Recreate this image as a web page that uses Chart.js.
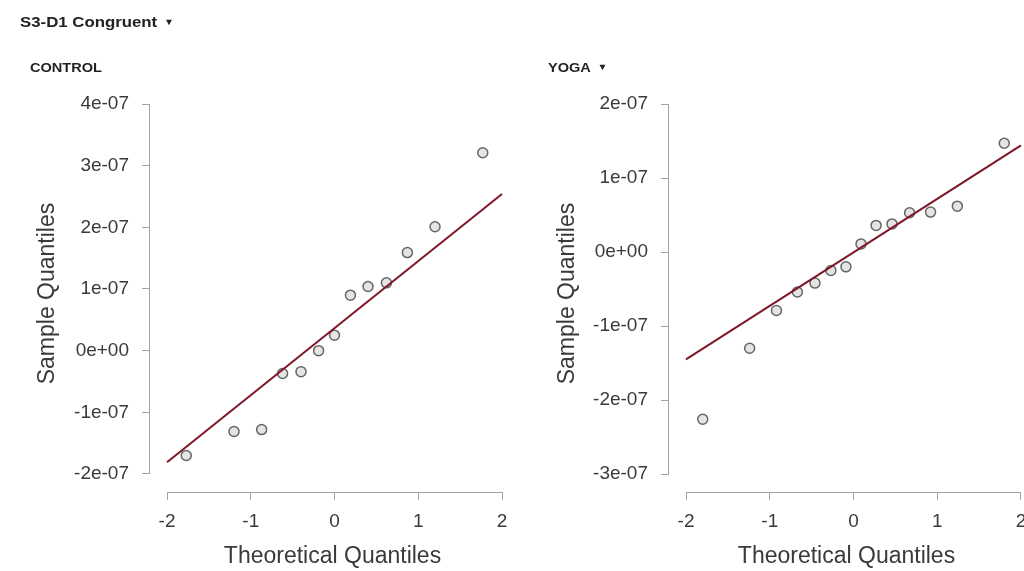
<!DOCTYPE html>
<html><head><meta charset="utf-8">
<script src="https://cdn.jsdelivr.net/npm/chart.js@4.4.1/dist/chart.umd.min.js"></script>
<style>
html,body{margin:0;padding:0;background:#fff;width:1024px;height:571px;overflow:hidden;}
#wrap{position:relative;width:1024px;height:571px;}
canvas{position:absolute;top:0;}
.hdr{position:absolute;font-family:"Liberation Sans",Arial,sans-serif;font-weight:bold;color:#222;white-space:nowrap;transform:scaleX(1.12);transform-origin:left center;line-height:16px;}
.tri{font-size:9px;margin-left:6px;vertical-align:2px;}
</style></head><body>
<div id="wrap">
<canvas id="c1" width="520" height="571" style="left:0"></canvas>
<canvas id="c2" width="504" height="571" style="left:520px"></canvas>
<div class="hdr" style="left:20px;top:14px;font-size:15px;">S3-D1 Congruent<span class="tri">▼</span></div>
<div class="hdr" style="left:30px;top:60px;font-size:13px;">CONTROL</div>
<div class="hdr" style="left:548px;top:59px;font-size:13px;">YOGA<span class="tri">▼</span></div>
</div>
<script>
// ---- data ----
const xTicks = [-2, -1, 0, 1, 2];
const xLabels = ["-2", "-1", "0", "1", "2"];

const controlTheoretical = [-1.77, -1.20, -0.87, -0.62, -0.40, -0.19, 0.00, 0.19, 0.40, 0.62, 0.87, 1.20, 1.77];
const controlSample = [-1.70e-7, -1.31e-7, -1.28e-7, -0.37e-7, -0.34e-7, 0.00e-7, 0.25e-7, 0.90e-7, 1.04e-7, 1.10e-7, 1.59e-7, 2.01e-7, 3.21e-7];
const controlLineX = [-2, 2];
const controlLineY = [-1.81e-7, 2.54e-7];
const controlYTicks = [-2e-7, -1e-7, 0, 1e-7, 2e-7, 3e-7, 4e-7];
const controlYLabels = ["-2e-07", "-1e-07", "0e+00", "1e-07", "2e-07", "3e-07", "4e-07"];

const yogaTheoretical = [-1.80, -1.24, -0.92, -0.67, -0.46, -0.27, -0.09, 0.09, 0.27, 0.46, 0.67, 0.92, 1.24, 1.80];
const yogaSample = [-2.26e-7, -1.30e-7, -0.79e-7, -0.54e-7, -0.42e-7, -0.25e-7, -0.20e-7, 0.11e-7, 0.36e-7, 0.38e-7, 0.53e-7, 0.54e-7, 0.62e-7, 1.47e-7];
const yogaLineX = [-2, 2];
const yogaLineY = [-1.45e-7, 1.44e-7];
const yogaYTicks = [-3e-7, -2e-7, -1e-7, 0, 1e-7, 2e-7];
const yogaYLabels = ["-3e-07", "-2e-07", "-1e-07", "0e+00", "1e-07", "2e-07"];

// ---- drawing ----
const FONT = '"Liberation Sans", Arial, sans-serif';
const AXIS_COLOR = '#a3a3a3';
const TEXT_COLOR = '#3a3a3a';

const axisLines = {
  id: 'axisLines',
  afterDraw(chart) {
    const {ctx, chartArea, scales: {x, y}} = chart;
    ctx.save();
    ctx.strokeStyle = AXIS_COLOR;
    ctx.lineWidth = 1;
    const yl = Math.round(chartArea.left) - 0.5;
    ctx.beginPath();
    ctx.moveTo(yl, y.getPixelForValue(y.ticks[0].value));
    ctx.lineTo(yl, y.getPixelForValue(y.ticks[y.ticks.length - 1].value));
    ctx.stroke();
    const xb = Math.round(chartArea.bottom) + 0.5;
    ctx.beginPath();
    ctx.moveTo(x.getPixelForValue(x.ticks[0].value), xb);
    ctx.lineTo(x.getPixelForValue(x.ticks[x.ticks.length - 1].value), xb);
    ctx.stroke();
    ctx.restore();
  }
};

function makeChart(id, theo, sample, lineX, lineY, yTicks, yLabels, yMin, yMax, xMin, xMax, yAxisWidth, padRight) {
  const points = theo.map((t, i) => ({x: t, y: sample[i]}));
  const line = lineX.map((t, i) => ({x: t, y: lineY[i]}));
  return new Chart(document.getElementById(id), {
    type: 'scatter',
    data: {
      datasets: [
        {data: line, showLine: true, borderColor: '#7d1627', borderWidth: 2, pointRadius: 0, order: 0},
        {data: points, pointRadius: 5, pointBorderWidth: 1.5, borderColor: '#666666', backgroundColor: 'rgba(205,205,205,0.55)', order: 1}
      ]
    },
    options: {
      responsive: false,
      animation: false,
      layout: {autoPadding: false, padding: {top: 95, right: padRight, bottom: 0, left: 0}},
      plugins: {legend: {display: false}, tooltip: {enabled: false}},
      scales: {
        x: {
          type: 'linear', min: xMin, max: xMax,
          afterBuildTicks: s => { s.ticks = xTicks.map(v => ({value: v})); },
          afterFit: s => { s.height = 79; s.paddingLeft = 0; s.paddingRight = 0; },
          grid: {display: true, drawOnChartArea: false, drawTicks: true, tickLength: 8, color: AXIS_COLOR},
          border: {display: false},
          ticks: {autoSkip: false, maxRotation: 0, padding: 10, color: TEXT_COLOR, font: {family: FONT, size: 19},
                  callback: (v, i) => xLabels[i]},
          title: {display: true, text: 'Theoretical Quantiles', color: TEXT_COLOR, font: {family: FONT, size: 23}, padding: {top: 0, bottom: 1}}
        },
        y: {
          type: 'linear', min: yMin, max: yMax,
          afterBuildTicks: s => { s.ticks = yTicks.map(v => ({value: v})); },
          afterFit: s => { s.width = yAxisWidth; s.paddingTop = 0; s.paddingBottom = 0; },
          grid: {display: true, drawOnChartArea: false, drawTicks: true, tickLength: 8, color: AXIS_COLOR},
          border: {display: false},
          ticks: {autoSkip: false, padding: 13, color: TEXT_COLOR, font: {family: FONT, size: 19},
                  callback: (v, i) => yLabels[i]},
          title: {display: true, text: 'Sample Quantiles', color: TEXT_COLOR, font: {family: FONT, size: 23}, padding: {top: 34, bottom: 0}}
        }
      }
    },
    plugins: [axisLines]
  });
}

makeChart('c1', controlTheoretical, controlSample, controlLineX, controlLineY, controlYTicks, controlYLabels,
          -2.292e-7, 4.146e-7, -2.203, 2.155, 150, 5);
makeChart('c2', yogaTheoretical, yogaSample, yogaLineX, yogaLineY, yogaYTicks, yogaYLabels,
          -3.243e-7, 2.122e-7, -2.203, 2.036, 149, 0);
</script>
</body></html>
